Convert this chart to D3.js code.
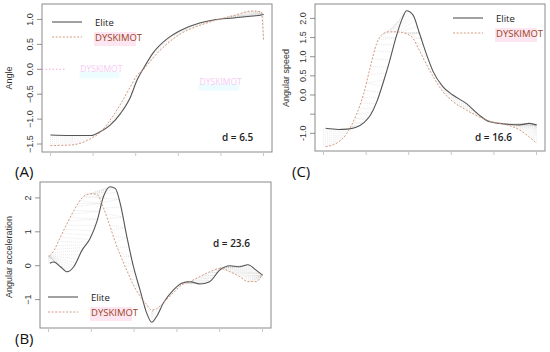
<!DOCTYPE html>
<html>
<head>
<meta charset="utf-8">
<script src="https://cdn.jsdelivr.net/npm/d3@7"></script>
<style>
  body { margin: 0; background: #fff; }
  svg { display: block; }
</style>
</head>
<body>
<div id="chart"></div>
<script>
// percent of cycle
const angleX    = [0, 9.4, 19, 23.5, 28, 33, 37.5, 40.6, 43.7, 48, 55, 61, 70, 76.5, 86, 95, 99, 100];
const angleElite = [-1.32, -1.33, -1.33, -1.25, -1.12, -0.88, -0.56, -0.22, 0.02, 0.32, 0.62, 0.78, 0.93, 0.99, 1.03, 1.07, 1.09, 1.10];
const angleDys   = [-1.53, -1.52, -1.39, -1.26, -1.02, -0.69, -0.35, -0.12, 0.0, 0.22, 0.52, 0.71, 0.88, 0.97, 1.08, 1.17, 1.15, 0.58];

const speedX     = [1, 7, 11, 15, 19, 22, 25, 28, 31, 34, 37, 39, 42, 45, 48.5, 51.5, 56, 60.7, 67, 73, 78, 86, 92, 96.7, 100];
const speedElite = [-0.87, -0.9, -0.89, -0.85, -0.72, -0.53, -0.18, 0.32, 0.88, 1.5, 2.0, 2.2, 2.09, 1.62, 1.04, 0.61, 0.22, 0.0, -0.22, -0.52, -0.7, -0.76, -0.78, -0.74, -0.78];
const speedDys   = [-1.35, -1.23, -1.0, -0.57, 0.06, 0.74, 1.35, 1.6, 1.65, 1.65, 1.63, 1.6, 1.48, 1.17, 0.78, 0.48, 0.09, -0.17, -0.39, -0.57, -0.68, -0.78, -0.91, -1.1, -1.26];

const accelX     = [0.6, 2.5, 5.6, 8.7, 11.8, 15.7, 19.5, 22.6, 25.7, 28.8, 31.2, 33.5, 36.6, 39.7, 42.8, 45.9, 48.2, 50.5, 53.6, 58.3, 62.2, 66, 70.7, 75.3, 80, 84.8, 89.3, 93.2, 97, 100];
const accelElite = [0.07, 0.11, -0.03, -0.18, -0.03, 0.46, 0.81, 1.3, 2.04, 2.33, 2.28, 1.84, 0.86, -0.03, -0.72, -1.4, -1.67, -1.5, -1.11, -0.72, -0.52, -0.47, -0.54, -0.47, -0.13, 0.0, -0.03, 0.03, -0.13, -0.28];
const accelDys   = [0.29, 0.45, 0.85, 1.25, 1.62, 2.0, 2.12, 2.1, 1.7, 1.15, 0.7, 0.32, -0.14, -0.57, -0.9, -1.15, -1.31, -1.27, -1.1, -0.8, -0.57, -0.47, -0.32, -0.18, -0.08, -0.18, -0.32, -0.47, -0.47, -0.24];

const xTicks = [0, 20, 40, 60, 80, 100];
const angleTicks = [-1.5, -1.0, -0.5, 0.0, 0.5, 1.0];
const speedTicks = [-1.0, -0.5, 0.0, 0.5, 1.0, 1.5, 2.0];
const speedTickLabels = ['-1.0', '', '0.0', '0.5', '1.0', '1.5', '2.0'];
const accelTicks = [-1, 0, 1, 2];

const seriesNames = ['Elite', 'DYSKIMOT'];

const W = 550, H = 352;
const svg = d3.select('#chart').append('svg').attr('width', W).attr('height', H);

const eliteColor = '#555';
const dysColor = '#d39a7e';

function drawPanel(p) {
  const g = svg.append('g');
  const x = d3.scaleLinear().domain([0, 100]).range([p.box[0] + p.pad, p.box[1] - p.pad]);
  const y = d3.scaleLinear().domain(p.yDomain).range([p.box[3], p.box[2]]);

  // hatch layer first, lines on top
  const hatch = g.append('g');

  const line = d3.line().x((d) => x(d[0])).y((d) => y(d[1])).curve(d3.curveMonotoneX);
  const eliteData = p.xs.map((v, i) => [v, p.elite[i]]);
  const dysData = p.xs.map((v, i) => [v, p.dys[i]]);

  const eliteP = g.append('path').attr('d', line(eliteData))
    .attr('fill', 'none').attr('stroke', eliteColor).attr('stroke-width', 1.1);
  const dysP = g.append('path').attr('d', line(dysData))
    .attr('fill', 'none').attr('stroke', dysColor).attr('stroke-width', 1)
    .attr('stroke-dasharray', '2,1.6');

  // sample both curves at even x, then align them (dtw) for the hatch lines
  function sample(path) {
    const node = path.node();
    const len = node.getTotalLength();
    const pts = [];
    for (let i = 0; i <= 600; i++) {
      const pt = node.getPointAtLength(len * i / 600);
      pts.push([pt.x, pt.y]);
    }
    const n = 110;
    const out = [];
    for (let k = 0; k < n; k++) {
      const px = x(0) + (x(100) - x(0)) * k / (n - 1);
      let best = pts[0];
      for (const q of pts) if (Math.abs(q[0] - px) < Math.abs(best[0] - px)) best = q;
      out.push([px, best[1]]);
    }
    return out;
  }
  const a = sample(eliteP), b = sample(dysP);
  const n = a.length, m = b.length;
  const cost = [];
  for (let i = 0; i < n; i++) {
    cost.push(new Float64Array(m));
    for (let j = 0; j < m; j++) {
      const d = Math.abs(a[i][1] - b[j][1]);
      let prev = 0;
      if (i > 0 || j > 0) {
        prev = Math.min(
          i > 0 ? cost[i - 1][j] : Infinity,
          j > 0 ? cost[i][j - 1] : Infinity,
          i > 0 && j > 0 ? cost[i - 1][j - 1] : Infinity);
      }
      cost[i][j] = d + prev;
    }
  }
  const pairs = [];
  let i = n - 1, j = m - 1;
  pairs.push([i, j]);
  while (i > 0 || j > 0) {
    if (i === 0) j--;
    else if (j === 0) i--;
    else {
      const c = Math.min(cost[i - 1][j - 1], cost[i - 1][j], cost[i][j - 1]);
      if (c === cost[i - 1][j - 1]) { i--; j--; }
      else if (c === cost[i - 1][j]) i--;
      else j--;
    }
    pairs.push([i, j]);
  }
  hatch.selectAll('line').data(pairs).enter().append('line')
    .attr('x1', (d) => a[d[0]][0]).attr('y1', (d) => a[d[0]][1])
    .attr('x2', (d) => b[d[1]][0]).attr('y2', (d) => b[d[1]][1])
    .attr('stroke', '#c4c4c4').attr('stroke-width', 0.5)
    .attr('stroke-dasharray', '1,1').attr('opacity', 0.75);

  // box
  g.append('rect')
    .attr('x', p.box[0]).attr('y', p.box[2])
    .attr('width', p.box[1] - p.box[0]).attr('height', p.box[3] - p.box[2])
    .attr('fill', 'none').attr('stroke', '#8a8a8a').attr('stroke-width', 1);

  // x ticks, no labels
  g.selectAll('.xt').data(xTicks).enter().append('line')
    .attr('x1', (d) => x(d)).attr('x2', (d) => x(d))
    .attr('y1', p.box[3]).attr('y2', p.box[3] + 4)
    .attr('stroke', '#c8c8c8').attr('stroke-width', 1);

  // y ticks
  g.selectAll('.yt').data(p.yTicks).enter().append('line')
    .attr('x1', p.box[0] - 5).attr('x2', p.box[0])
    .attr('y1', (d) => y(d)).attr('y2', (d) => y(d))
    .attr('stroke', '#777').attr('stroke-width', 0.8);
  g.selectAll('.yl').data(p.yTicks).enter().append('text')
    .attr('transform', (d) => `translate(${p.box[0] - 9},${y(d)}) rotate(-90)`)
    .attr('text-anchor', 'middle')
    .style('font-family', 'Liberation Sans, Arial, sans-serif')
    .style('font-size', '9px').attr('fill', '#333')
    .text((d, k) => p.yLabels ? p.yLabels[k] : p.fmt(d));

  g.append('text')
    .attr('transform', `translate(${p.titleX},${p.titleY}) rotate(-90)`)
    .attr('text-anchor', 'middle')
    .style('font-family', 'Liberation Sans, Arial, sans-serif')
    .style('font-size', '9px').attr('fill', '#333')
    .text(p.title);

  // legend
  const lg = g.append('g').attr('transform', `translate(${p.legend[0]},${p.legend[1]})`);
  lg.append('rect').attr('x', 42).attr('y', 10).attr('width', 42).attr('height', 14).attr('fill', '#fde6f1');
  lg.append('line').attr('x1', 0).attr('x2', 30).attr('y1', 0).attr('y2', 0)
    .attr('stroke', eliteColor).attr('stroke-width', 1.1);
  lg.append('line').attr('x1', 0).attr('x2', 30).attr('y1', 15).attr('y2', 15)
    .attr('stroke', dysColor).attr('stroke-width', 1).attr('stroke-dasharray', '2,1.6');
  lg.selectAll('.lt').data(seriesNames).enter().append('text')
    .attr('x', 43).attr('y', (d, k) => 4 + 15 * k)
    .style('font-family', 'Open Sans, sans-serif').style('font-size', '9.5px')
    .style('font-weight', 400)
    .attr('fill', (d, k) => k === 0 ? '#222' : '#9a4422')
    .text((d) => d);

  g.append('text').attr('x', p.dPos[0]).attr('y', p.dPos[1])
    .style('font-family', 'Open Sans, sans-serif').style('font-size', '10px')
    .style('font-weight', 600).attr('fill', '#222')
    .text(p.dText);

  g.append('text').attr('x', p.tag[0]).attr('y', p.tag[1])
    .style('font-family', 'Open Sans, sans-serif').style('font-size', '15px')
    .attr('fill', '#111').text(p.tagText);

  return { g, x, y };
}

const A = drawPanel({
  box: [42, 272, 4, 152], pad: 8.5, yDomain: [-1.66, 1.31],
  xs: angleX, elite: angleElite, dys: angleDys,
  yTicks: angleTicks, fmt: d3.format('.1f'),
  title: 'Angle', titleX: 12, titleY: 78,
  legend: [52, 22], dPos: [222, 141], dText: 'd = 6.5',
  tag: [15, 177], tagText: '(A)'
});

const C = drawPanel({
  box: [315, 545, 4, 151], pad: 8.5, yDomain: [(95 - 151) / 38.3, (95 - 4) / 38.3],
  xs: speedX, elite: speedElite, dys: speedDys,
  yTicks: speedTicks, yLabels: speedTickLabels,
  title: 'Angular speed', titleX: 289, titleY: 78,
  legend: [453, 18], dPos: [475, 141], dText: 'd = 16.6',
  tag: [292, 177], tagText: '(C)'
});

const B = drawPanel({
  box: [40, 271, 182, 328], pad: 8.5, yDomain: [(265.7 - 328) / 33.9, (265.7 - 182) / 33.9],
  xs: accelX, elite: accelElite, dys: accelDys,
  yTicks: accelTicks, fmt: d3.format('d'),
  title: 'Angular acceleration', titleX: 12, titleY: 257,
  legend: [48, 297], dPos: [213, 247], dText: 'd = 23.6',
  tag: [15, 344], tagText: '(B)'
});

// faint ghost labels left in the source picture
const ghosts = [[A.x(14), A.y(0)], [A.x(70), A.y(-0.25)]];
ghosts.forEach((d) => {
  svg.append('rect').attr('x', d[0] - 1).attr('y', d[1] + 2).attr('width', 40).attr('height', 7)
    .attr('fill', '#e6fbfd').attr('opacity', 0.7);
  svg.append('text').attr('x', d[0]).attr('y', d[1] + 3)
    .style('font-family', 'Open Sans, sans-serif').style('font-size', '8.5px')
    .attr('fill', '#f5b5ee').attr('opacity', 0.7).text('DYSKIMOT');
});
svg.append('line').attr('x1', 42).attr('x2', 66).attr('y1', A.y(0)).attr('y2', A.y(0))
  .attr('stroke', '#f4a6dc').attr('stroke-width', 1).attr('stroke-dasharray', '1.5,2');
</script>
</body>
</html>
